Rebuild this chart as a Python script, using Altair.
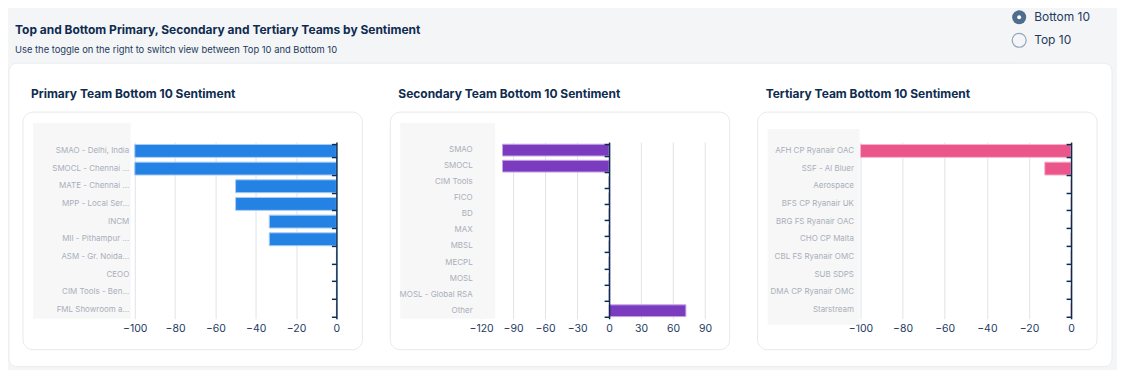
import altair as alt
import pandas as pd

# ---------------- data ----------------
primary_teams = ["SMAO - Delhi, India", "SMOCL - Chennai ...", "MATE - Chennai ...", "MPP - Local Ser...",
                 "INCM", "MII - Pithampur ...", "ASM - Gr. Noida...", "CEOO", "CIM Tools - Ben...",
                 "FML Showroom a..."]
primary_values = [-100, -100, -50, -50, -33.3, -33.3, 0, 0, 0, 0]

secondary_teams = ["SMAO", "SMOCL", "CIM Tools", "FICO", "BD", "MAX", "MBSL", "MECPL", "MOSL",
                   "MOSL - Global RSA", "Other"]
secondary_values = [-100, -100, 0, 0, 0, 0, 0, 0, 0, 0, 72]

tertiary_teams = ["AFH CP Ryanair OAC", "SSF - Al Bluer", "Aerospace", "BFS CP Ryanair UK",
                  "BRG FS Ryanair OAC", "CHO CP Malta", "CBL FS Ryanair OMC", "SUB SDPS",
                  "DMA CP Ryanair OMC", "Starstream"]
tertiary_values = [-100, -12.5, 0, 0, 0, 0, 0, 0, 0, 0]

primary_ticks = [-100, -80, -60, -40, -20, 0]
secondary_ticks = [-120, -90, -60, -30, 0, 30, 60, 90]
tertiary_ticks = [-100, -80, -60, -40, -20, 0]

FONT = "Inter"
NAVY = "#0e2c50"
LABEL = "#1e3a5f"
H = 177
one = pd.DataFrame({"k": [0]})
NOVIEW = alt.ViewBackground(stroke="transparent", strokeWidth=0)


def deco_rect(x, x2, y, y2, fill, stroke="transparent", radius=0):
    return alt.Chart(one).mark_rect(fill=fill, stroke=stroke, strokeWidth=1, cornerRadius=radius).encode(
        x=alt.value(x), x2=alt.value(x2), y=alt.value(y), y2=alt.value(y2))


def deco_text(txt, x, y, size, weight="normal", color=NAVY):
    return alt.Chart(one).mark_text(text=txt, align="left", baseline="middle", font=FONT,
                                    fontSize=size, fontWeight=weight, color=color).encode(
        x=alt.value(x), y=alt.value(y))


def panel(teams, values, domain, ticks, width, color, stroke, box, label_pad):
    df = pd.DataFrame({"team": teams, "value": values})
    zero_px = (0 - domain[0]) / (domain[1] - domain[0]) * width
    yscale = alt.Scale(paddingInner=0.27, paddingOuter=0.135)
    xscale = alt.Scale(domain=domain, nice=False, zero=False)
    xaxis = alt.Axis(values=ticks, title=None, domain=False, ticks=False, grid=True,
                     gridColor="#e0e3e9", gridWidth=1, labelColor=LABEL, labelFontSize=10.5,
                     labelFont=FONT, labelPadding=5, labelOverlap=False, labelFlush=False)
    bg = deco_rect(box[0], box[1], box[2], box[3], "#f7f7f8")
    bars = alt.Chart(df).mark_bar(color=color, stroke=stroke, strokeWidth=1).encode(
        x=alt.X("value:Q", scale=xscale, axis=xaxis), x2=alt.datum(0),
        y=alt.Y("team:N", sort=teams, scale=yscale,
                axis=alt.Axis(orient="left", title=None, domain=False, ticks=False, grid=False,
                              labelColor="#a9afb8", labelFontSize=8, labelFont=FONT,
                              labelPadding=label_pad, labelLimit=100, zindex=1)))
    tick_layer = alt.Chart(df).mark_bar(opacity=0).encode(
        x=alt.X("value:Q", scale=xscale, axis=xaxis), x2=alt.datum(0),
        y=alt.Y("team:N", sort=teams, scale=yscale,
                axis=alt.Axis(orient="left", title=None, labels=False, domain=True, domainColor=NAVY,
                              domainWidth=1.5, ticks=True, tickColor=NAVY, tickWidth=1.5, tickSize=5,
                              tickBand="extent", grid=False, offset=-zero_px, zindex=1)))
    return alt.layer(bg, bars, tick_layer).resolve_axis(y="independent").properties(
        width=width, height=H, view=NOVIEW)


W1, W2, W3 = 202, 235, 211
p1 = panel(primary_teams, primary_values, [-100, 0], primary_ticks, W1, "#2482e4", "#a8ccf3",
           (-102, -4, -19, 177), 6)
p2 = panel(secondary_teams, secondary_values, [-120, 100], secondary_ticks, W2, "#7a3bbf", "#c4a3e6",
           (-81, 14, -19, 177), 9)
p3 = panel(tertiary_teams, tertiary_values, [-100, 0], tertiary_ticks, W3, "#ea558a", "#f6b3cb",
           (-93, -1, -13, 183), 7)

# header (page decorations, titles, toggle)
header = alt.layer(
    deco_rect(-126, 983, 0, 360, "#f4f5f7"),
    deco_rect(-126, 979, 54, 358, "#ffffff", stroke="#e9ebee", radius=8),
    deco_rect(-112, 228, 103, 341, "#ffffff", stroke="#e6e8ec", radius=10),
    deco_rect(256, 596, 103, 341, "#ffffff", stroke="#e6e8ec", radius=10),
    deco_rect(624, 964, 103, 341, "#ffffff", stroke="#e6e8ec", radius=10),
    deco_text("Top and Bottom Primary, Secondary and Tertiary Teams by Sentiment", -120, 21, 12, "bold"),
    deco_text("Use the toggle on the right to switch view between Top 10 and Bottom 10", -120, 41, 9.4,
              color="#1c3a5c"),
    deco_text("Primary Team Bottom 10 Sentiment", -104, 85, 12, "bold"),
    deco_text("Secondary Team Bottom 10 Sentiment", 264, 85, 12, "bold"),
    deco_text("Tertiary Team Bottom 10 Sentiment", 632, 85, 12, "bold"),
    alt.Chart(one).mark_point(shape="circle", filled=True, size=196, color="#4f6d8f", opacity=1).encode(
        x=alt.value(886), y=alt.value(8)),
    alt.Chart(one).mark_point(shape="circle", filled=True, size=16, color="#ffffff", opacity=1).encode(
        x=alt.value(886), y=alt.value(8)),
    alt.Chart(one).mark_point(shape="circle", filled=False, size=196, color="#93a5b9", strokeWidth=1.2,
                              opacity=1).encode(x=alt.value(886), y=alt.value(31)),
    deco_text("Bottom 10", 901, 8, 12, color="#1f3b5c"),
    deco_text("Top 10", 901, 31, 12, color="#1f3b5c"),
).properties(width=1, height=133, view=NOVIEW)

row = alt.hconcat(p1, p2, p3, spacing=145, bounds="flush")
chart = alt.vconcat(header, row, spacing=0, bounds="flush").properties(
    background="#f4f5f7", padding=0
).configure_view(stroke="transparent", strokeWidth=0).configure(font=FONT)

chart.save("out.html", embed_options={"renderer": "svg", "actions": False})
